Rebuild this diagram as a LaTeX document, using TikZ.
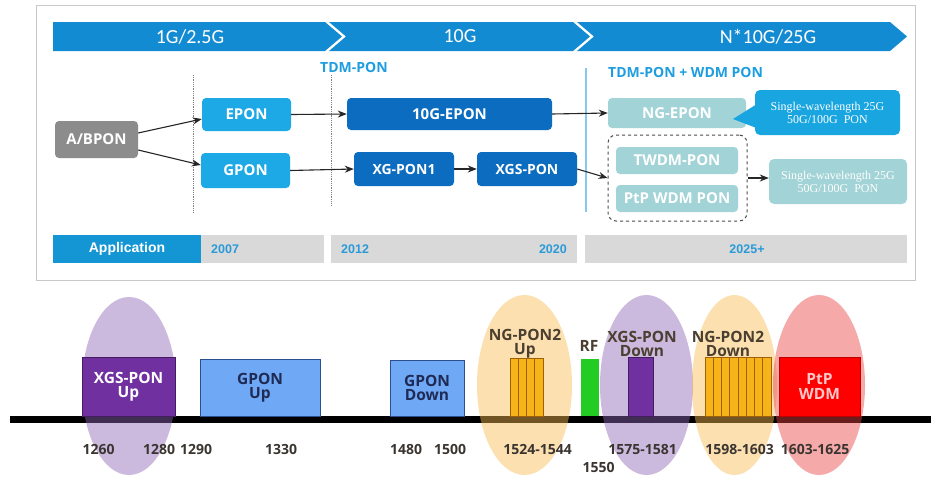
\documentclass[tikz,border=0pt]{standalone}
\usepackage{fontspec}
\newfontfamily\osans{Open Sans}
\newfontfamily\carl{Carlito}
\newfontfamily\lsans{Liberation Sans}
\newfontfamily\lserif{Liberation Serif}
\usetikzlibrary{arrows.meta}
\definecolor{banner}{HTML}{138BD3}
\definecolor{lblue}{HTML}{1CA9E6}
\definecolor{dblue}{HTML}{0C6CBF}
\definecolor{teal}{HTML}{A2D3D6}
\definecolor{callblue}{HTML}{18A5E0}
\definecolor{abgray}{HTML}{8C8C8C}
\definecolor{bargray}{HTML}{D9D9D9}
\definecolor{appblue}{HTML}{1496D4}
\definecolor{tdmblue}{HTML}{1E9EE0}
\definecolor{framegray}{HTML}{C8C8C8}
\definecolor{yearblue}{HTML}{2A9AD8}
\definecolor{epurple}{RGB}{144,100,182}
\definecolor{eorange}{RGB}{250,187,80}
\definecolor{ered}{RGB}{233,66,66}
\definecolor{xpurple}{HTML}{7030A0}
\definecolor{gponfill}{HTML}{6FA8F5}
\definecolor{gponedge}{HTML}{2E4F8F}
\definecolor{gpontext}{HTML}{1F2A55}
\definecolor{strip}{HTML}{F6B419}
\definecolor{stripedge}{HTML}{A0600A}
\definecolor{rfgreen}{HTML}{22CC22}
\definecolor{ptpred}{HTML}{FF0000}
\definecolor{ptptext}{HTML}{FFC8C8}
\definecolor{lbltext}{HTML}{4A3F30}
\definecolor{numtext}{HTML}{3A3530}
\begin{document}
\begin{tikzpicture}[x=1pt,y=-1pt,
  box/.style={rounded corners=4pt, inner sep=0pt, text=white, font=\osans\bfseries\fontsize{15}{16}\selectfont},
  arr/.style={-{Stealth[length=9pt,width=7pt]}, line width=1.1pt, draw=black!85},
  callout/.style={rounded corners=5pt, inner sep=0pt, text=white, align=center, font=\lserif\fontsize{12}{13}\selectfont},
  bartext/.style={font=\lsans\bfseries\fontsize{12.5}{14}\selectfont, text=yearblue, inner sep=0pt},
  wlbl/.style={font=\osans\bfseries\fontsize{15.5}{14}\selectfont, text=lbltext, align=center, inner sep=0pt},
  num/.style={font=\osans\bfseries\fontsize{14}{15}\selectfont, text=numtext, inner sep=0pt},
  band/.style={draw=#1!60!black, line width=0.8pt},
  ellip/.style={fill=#1, fill opacity=0.45, draw=none}
]
\useasboundingbox (0,0) rectangle (931,477);
\fill[white] (0,0) rectangle (931,477);
% ---------- top panel ----------
\draw[framegray, line width=1pt] (36,5) rectangle (915,280);
\fill[banner] (53,22) -- (325,22) -- (342,36.5) -- (325,51) -- (53,51) -- cycle;
\fill[banner] (329,22) -- (573,22) -- (590,36.5) -- (573,51) -- (329,51) -- (346,36.5) -- cycle;
\fill[banner] (577,22) -- (890,22) -- (907,36.5) -- (890,51) -- (577,51) -- (594,36.5) -- cycle;
\node[text=white, font=\carl\fontsize{20}{22}\selectfont, inner sep=0pt] (g1) at (190,36.5) {1G/2.5G};
\node[text=white, font=\carl\fontsize{20}{22}\selectfont, inner sep=0pt] (g10) at (460,36.5) {10G};
\node[text=white, font=\carl\fontsize{20}{22}\selectfont, inner sep=0pt] (g25) at (768,36.5) {N*10G/25G};
\node[text=tdmblue, font=\osans\bfseries\fontsize{14}{15}\selectfont, inner sep=0pt, anchor=west] (tdm) at (320,67.5) {TDM-PON};
\node[text=tdmblue, font=\osans\bfseries\fontsize{14}{15}\selectfont, inner sep=0pt, anchor=west] (tdmwdm) at (608,72) {TDM-PON + WDM PON};
\draw[gray, densely dotted, line width=0.8pt] (193,75) -- (193,212);
\draw[gray, densely dotted, line width=0.8pt] (331,75) -- (331,205);
\draw[tdmblue!55, line width=1.2pt] (586,68) -- (586,212);
% boxes
\node[box, fill=abgray, minimum width=83pt, minimum height=37pt] (abpon) at (96.5,139.5) {A/BPON};
\node[box, fill=lblue, minimum width=89pt, minimum height=33pt] (epon) at (246.5,114.5) {EPON};
\node[box, fill=lblue, minimum width=89pt, minimum height=35pt] (gpon) at (245.5,170.5) {GPON};
\node[box, fill=dblue, minimum width=205pt, minimum height=32pt] (tengepon) at (449.5,114) {10G-EPON};
\node[box, fill=dblue, minimum width=100pt, minimum height=34pt, font=\osans\bfseries\fontsize{14}{15}\selectfont] (xgpon) at (404,169) {XG-PON1};
\node[box, fill=dblue, minimum width=100pt, minimum height=34pt, font=\osans\bfseries\fontsize{14}{15}\selectfont] (xgspon) at (527,169) {XGS-PON};
\node[box, fill=teal, minimum width=138pt, minimum height=30pt] (ngepon) at (677,113) {NG-EPON};
\node[box, fill=teal, minimum width=122pt, minimum height=27pt] (twdm) at (677,160.5) {TWDM-PON};
\node[box, fill=teal, minimum width=122pt, minimum height=27pt] (ptpwdm) at (677,198.5) {PtP WDM PON};
\node[draw=black!70, dashed, line width=1pt, rounded corners=8pt, minimum width=139pt, minimum height=86pt, inner sep=0pt] (wdmgrp) at (677.5,178) {};
\fill[callblue] (757,104) -- (733,119) -- (772,134) -- cycle;
\node[callout, fill=callblue, minimum width=145pt, minimum height=45pt] (call1) at (827.5,112.5) {Single-wavelength 25G\\50G/100G\ \ PON};
\node[callout, fill=teal, minimum width=138pt, minimum height=45pt] (call2) at (838,181.5) {Single-wavelength 25G\\50G/100G\ \ PON};
% arrows
\draw[arr] ([yshift=6.5pt]abpon.east) -- ([yshift=-4.5pt]epon.west);
\draw[arr] ([yshift=-10.5pt]abpon.east) -- ([yshift=5.5pt]gpon.west);
\draw[arr] (epon.east) -- (tengepon.west);
\draw[arr] (gpon.east) -- (xgpon.west);
\draw[arr] (xgpon.east) -- (xgspon.west);
\draw[arr] (xgspon.east) -- (wdmgrp.west);
\draw[arr] (tengepon.east) -- (ngepon.west);
\draw[arr] (wdmgrp.east) -- (wdmgrp.east -| call2.west);
% bottom bar
\node[fill=appblue, minimum width=148pt, minimum height=28pt, inner sep=0pt, text=white, font=\lsans\bfseries\fontsize{14}{15}\selectfont] (app) at (127,249) {Application};
\fill[bargray] (201,235) rectangle (324,263);
\fill[bargray] (331,235) rectangle (577,263);
\fill[bargray] (585,235) rectangle (907,263);
\node[bartext, anchor=west] (y07) at (211,249) {2007};
\node[bartext, anchor=west] (y12) at (341,249) {2012};
\node[bartext, anchor=east] (y20) at (567,249) {2020};
\node[bartext] (y25) at (747,249) {2025+};
% ---------- bottom panel ----------
\fill[black] (10,416) rectangle (931,423);
\fill[ellip=epurple] (129,386) ellipse [x radius=47, y radius=89];
\fill[ellip=eorange] (524.5,385) ellipse [x radius=47.5, y radius=90];
\fill[ellip=epurple] (646.5,385) ellipse [x radius=46.5, y radius=90];
\fill[ellip=eorange] (734.5,385) ellipse [x radius=42.5, y radius=90];
\fill[ellip=ered] (819,385) ellipse [x radius=46, y radius=90];
% bands
\node[band=xpurple, fill=xpurple, minimum width=93pt, minimum height=59pt, inner sep=0pt, text=white, align=center, font=\osans\bfseries\fontsize{15.5}{14}\selectfont] (xgsup) at (128.5,386.5) {XGS-PON\\Up};
\node[draw=gponedge, line width=0.8pt, fill=gponfill, minimum width=120pt, minimum height=57pt, inner sep=0pt, text=gpontext, align=center, font=\osans\bfseries\fontsize{15.5}{14}\selectfont] (gponup) at (260,387.5) {GPON\\Up};
\node[draw=gponedge, line width=0.8pt, fill=gponfill, minimum width=74pt, minimum height=56pt, inner sep=0pt, text=gpontext, align=center, font=\osans\bfseries\fontsize{15.5}{14}\selectfont] (gpondown) at (427,388) {GPON\\Down};
\foreach \i in {0,...,3} {
  \filldraw[fill=strip, draw=stripedge, line width=0.7pt] (510+8.25*\i,358) rectangle (518.25+8.25*\i,416);
}
\fill[rfgreen] (581,359) rectangle (599,416);
\filldraw[fill=xpurple, draw=xpurple!60!black, line width=0.7pt] (628,357) rectangle (653,416);
\foreach \i in {0,...,7} {
  \filldraw[fill=strip, draw=stripedge, line width=0.7pt] (705+8.25*\i,357) rectangle (713.25+8.25*\i,416);
}
\node[draw=ptpred!75!black, line width=0.8pt, fill=ptpred, minimum width=81pt, minimum height=59pt, inner sep=0pt, text=ptptext, align=center, font=\osans\bfseries\fontsize{15.5}{15}\selectfont] (ptp) at (819.5,386.5) {PtP\\WDM};
% labels above
\node[wlbl] (lngup) at (525,344) {NG-PON2\\Up};
\node[wlbl] (lrf) at (589,346) {RF};
\node[wlbl] (lxgsdn) at (642,344) {XGS-PON\\Down};
\node[wlbl] (lngdn) at (728,344) {NG-PON2\\Down};
% numbers
\node[num] (n1260) at (98.5,449) {1260};
\node[num] (n1280) at (159,449) {1280};
\node[num] (n1290) at (196,449) {1290};
\node[num] (n1330) at (281,449) {1330};
\node[num] (n1480) at (406,449) {1480};
\node[num] (n1500) at (450,449) {1500};
\node[num] (n1524) at (537.5,449) {1524-1544};
\node[num] (n1550) at (598.5,467) {1550};
\node[num] (n1575) at (642.5,449) {1575-1581};
\node[num] (n1598) at (739.5,449) {1598-1603};
\node[num] (n1603) at (815,449) {1603-1625};
\end{tikzpicture}
\end{document}
